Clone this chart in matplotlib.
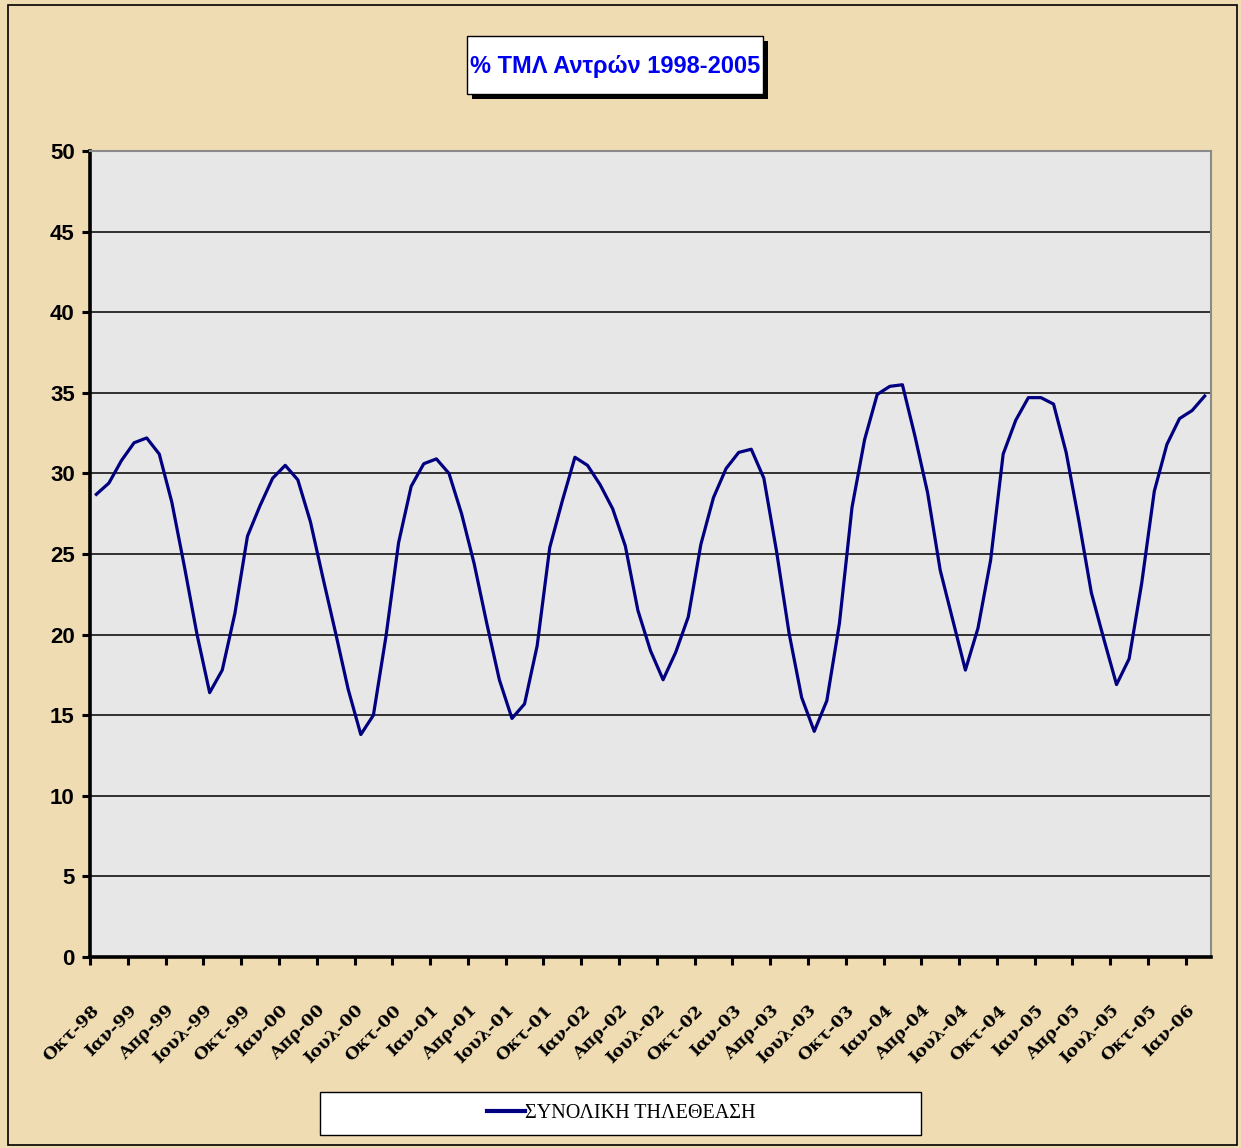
import numpy as np
import matplotlib
matplotlib.use("Agg")
import matplotlib.pyplot as plt
from matplotlib.patches import Rectangle

# ---------------- DATOS ----------------
TITULO = "% ΤΜΛ Αντρών 1998-2005"
SERIE = "ΣΥΝΟΛΙΚΗ ΤΗΛΕΘΕΑΣΗ"

# TML mensual, Οκτ-98 ... Φεβ-06 (89 meses)
TML = [28.7, 29.4, 30.8, 31.9, 32.2, 31.2, 28.2, 24.2, 20.0, 16.4,
       17.8, 21.3, 26.1, 28.0, 29.7, 30.5, 29.6, 27.0, 23.5, 20.1,
       16.6, 13.8, 15.0, 19.9, 25.7, 29.2, 30.6, 30.9, 30.0, 27.5,
       24.4, 20.7, 17.2, 14.8, 15.7, 19.3, 25.4, 28.3, 31.0, 30.5,
       29.3, 27.8, 25.5, 21.5, 19.0, 17.2, 18.9, 21.1, 25.6, 28.5,
       30.3, 31.3, 31.5, 29.7, 25.2, 20.1, 16.1, 14.0, 15.9, 20.7,
       27.9, 32.1, 34.9, 35.4, 35.5, 32.3, 28.8, 24.0, 20.9, 17.8,
       20.4, 24.6, 31.2, 33.3, 34.7, 34.7, 34.3, 31.3, 27.1, 22.6,
       19.7, 16.9, 18.5, 23.2, 28.9, 31.8, 33.4, 33.9, 34.8]

ETIQUETAS = ["Οκτ-98", "Ιαν-99", "Απρ-99", "Ιουλ-99", "Οκτ-99", "Ιαν-00",
             "Απρ-00", "Ιουλ-00", "Οκτ-00", "Ιαν-01", "Απρ-01", "Ιουλ-01",
             "Οκτ-01", "Ιαν-02", "Απρ-02", "Ιουλ-02", "Οκτ-02", "Ιαν-03",
             "Απρ-03", "Ιουλ-03", "Οκτ-03", "Ιαν-04", "Απρ-04", "Ιουλ-04",
             "Οκτ-04", "Ιαν-05", "Απρ-05", "Ιουλ-05", "Οκτ-05", "Ιαν-06"]

Y_TICKS = [0, 5, 10, 15, 20, 25, 30, 35, 40, 45, 50]

# ---------------- ESTILO ----------------
W, H = 1241, 1148
FONDO = "#efdcb3"
AREA = "#e7e7e7"
AZUL = "#000080"


def fx(px):
    return px / W


def fy(py):
    return 1 - py / H


def main():
    fig = plt.figure(figsize=(W / 100, H / 100), dpi=100, facecolor=FONDO)
    ax = fig.add_axes([fx(90), fy(957), fx(1211) - fx(90), fy(151) - fy(957)])
    ax.set_facecolor(AREA)

    x = np.arange(len(TML))
    linea, = ax.plot(x, TML, color=AZUL, lw=2.3, label=SERIE, zorder=3)

    ax.set_xlim(-0.5, len(TML) - 0.5)
    ax.set_ylim(0, 50)
    ax.set_yticks(Y_TICKS)
    ax.grid(axis="y", color="black", lw=1.1, zorder=1)
    ax.set_axisbelow(True)

    # ejes: izquierda y abajo negros, arriba y derecha grises
    for s in ("left", "bottom"):
        ax.spines[s].set_color("black")
        ax.spines[s].set_linewidth(2.6)
    for s in ("top", "right"):
        ax.spines[s].set_color("#8a8a8a")
        ax.spines[s].set_linewidth(1.5)

    ax.tick_params(axis="y", direction="out", length=6, width=2.2, pad=5,
                   labelsize=16)
    for t in ax.get_yticklabels():
        t.set_fontfamily("Liberation Sans")
        t.set_fontweight("bold")

    # categorías: marca cada 3 meses en el borde, etiqueta colgada de la marca
    ax.set_xticks(x[::3] - 0.5)
    ax.set_xticklabels(ETIQUETAS, rotation=45, ha="right", rotation_mode="anchor",
                       fontsize=12.5, fontweight="bold", fontfamily="DejaVu Serif")
    ax.tick_params(axis="x", direction="out", length=6, width=2.2, pad=26)

    # título en caja blanca con sombra
    fig.patches.append(Rectangle((fx(472), fy(99)), fx(296), fy(36) - fy(94),
                                 transform=fig.transFigure, facecolor="black",
                                 edgecolor="none", zorder=1))
    fig.patches.append(Rectangle((fx(467), fy(94)), fx(296), fy(36) - fy(94),
                                 transform=fig.transFigure, facecolor="white",
                                 edgecolor="black", lw=1, zorder=2))
    fig.text(fx(615), fy(66), TITULO, ha="center", va="center", color="#0000f0",
             fontsize=17, fontweight="bold", family="Liberation Sans", zorder=3)

    # leyenda
    fig.patches.append(Rectangle((fx(320), fy(1135)), fx(601), fy(1092) - fy(1135),
                                 transform=fig.transFigure, facecolor="white",
                                 edgecolor="black", lw=1))
    leg = fig.legend(handles=[linea], loc="center", bbox_to_anchor=(fx(621), fy(1113)),
                     frameon=False, handlelength=1.9, handletextpad=0.0,
                     prop={"family": "Liberation Serif", "size": 14.5})
    leg.get_lines()[0].set_linewidth(3.0)

    # marco exterior
    fig.patches.append(Rectangle((fx(8), fy(1145)), fx(1229), fy(5) - fy(1145),
                                 transform=fig.transFigure, facecolor="none",
                                 edgecolor="black", lw=1.2))

    fig.savefig("out.png", dpi=100, facecolor=FONDO)


if __name__ == "__main__":
    main()
